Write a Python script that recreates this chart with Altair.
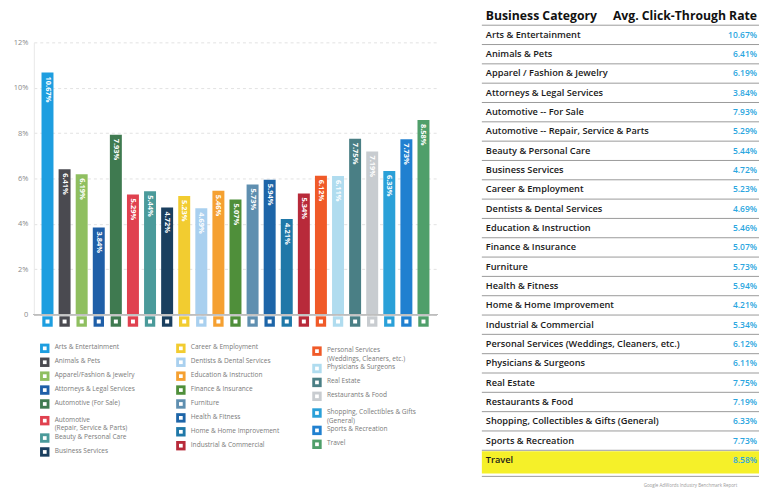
import altair as alt
import pandas as pd

categories = [
    "Arts & Entertainment", "Animals & Pets", "Apparel / Fashion & Jewelry",
    "Attorneys & Legal Services", "Automotive -- For Sale",
    "Automotive -- Repair, Service & Parts", "Beauty & Personal Care",
    "Business Services", "Career & Employment", "Dentists & Dental Services",
    "Education & Instruction", "Finance & Insurance", "Furniture",
    "Health & Fitness", "Home & Home Improvement", "Industrial & Commercial",
    "Personal Services (Weddings, Cleaners, etc.)", "Physicians & Surgeons",
    "Real Estate", "Restaurants & Food",
    "Shopping, Collectibles & Gifts (General)", "Sports & Recreation", "Travel",
]
ctr = [10.67, 6.41, 6.19, 3.84, 7.93, 5.29, 5.44, 4.72, 5.23, 4.69, 5.46, 5.07,
       5.73, 5.94, 4.21, 5.34, 6.12, 6.11, 7.75, 7.19, 6.33, 7.73, 8.58]
legend_labels = [
    "Arts & Entertainment", "Animals & Pets", "Apparel/Fashion & Jewelry",
    "Attorneys & Legal Services", "Automotive (For Sale)",
    "Automotive\n(Repair, Service & Parts)", "Beauty & Personal Care",
    "Business Services", "Career & Employment", "Dentists & Dental Services",
    "Education & Instruction", "Finance & Insurance", "Furniture",
    "Health & Fitness", "Home & Home Improvement", "Industrial & Commercial",
    "Personal Services\n(Weddings, Cleaners, etc.)", "Physicians & Surgeons",
    "Real Estate", "Restaurants & Food", "Shopping, Collectibles & Gifts\n(General)",
    "Sports & Recreation", "Travel",
]
colors = ["#1d9ee0", "#4a4a50", "#8fbf60", "#1f5fa8", "#3f7a50", "#e0414f",
          "#4a9a9a", "#1a3f5f", "#f2cc30", "#a9d0ef", "#f5a031", "#4f8f3a",
          "#5f8fb0", "#1d65a8", "#1f78a8", "#b82a3a", "#f05a28", "#b0dcef",
          "#4a7f85", "#c8ccd0", "#2aa0d8", "#2080d0", "#4f9f6a"]
y_ticks = [0, 2, 4, 6, 8, 10, 12]
header_left = "Business Category"
header_right = "Avg. Click-Through Rate"
highlight = "Travel"
footer = "Google AdWords Industry Benchmark Report"

df = pd.DataFrame({"cat": categories, "ctr": ctr, "color": colors,
                   "label": [f"{v:.2f}%" for v in ctr]})

xenc = alt.X("cat:N", sort=categories, axis=None,
             scale=alt.Scale(paddingInner=0.3, paddingOuter=0.45))
yenc = alt.Y("ctr:Q", scale=alt.Scale(domain=[0, 12], nice=False),
             axis=alt.Axis(values=y_ticks, title=None, grid=True, gridDash=[3, 3],
                           gridColor="#e2e2e2", domainColor="#e8e8e8", ticks=False,
                           labelColor="#8a8a8a", labelFontSize=7.5, labelPadding=6,
                           minExtent=26, labelFont="Open Sans",
                           labelExpr="datum.value == 0 ? '0' : datum.value + '%'"))
base = alt.Chart(df)
bars = base.mark_bar().encode(x=xenc, y=yenc, color=alt.Color("color:N", scale=None))
zero = base.mark_rule(color="#bdbdbd").encode(y=alt.datum(0))
labels = base.mark_text(angle=90, align="left", baseline="middle", dx=4, color="white",
                        fontSize=7.5, fontWeight="bold", font="Open Sans").encode(
    x=xenc, y="ctr:Q", text="label:N")
icons = base.mark_square(size=110, opacity=1, yOffset=7).encode(
    x=xenc, y=alt.datum(0), color=alt.Color("color:N", scale=None))
glyphs = base.mark_square(size=16, opacity=1, yOffset=7, color="white").encode(
    x=xenc, y=alt.datum(0))
bar_chart = alt.layer(bars, zero, labels, icons, glyphs).properties(width=406, height=274)

# custom legend, column-major, 8 per column
cols, poss = [], []
for c in range(3):
    idx = list(range(c * 8, min(c * 8 + 8, len(legend_labels))))
    extra = 0.0
    for k, i in enumerate(idx):
        two = "\n" in legend_labels[i]
        cols.append(c)
        poss.append(k + extra + (0.2 if two else 0.0))
        if two:
            extra += 0.45
leg_df = pd.DataFrame({"col": cols, "pos": poss, "label": legend_labels, "color": colors})
lx = alt.X("col:Q", scale=alt.Scale(domain=[-0.0803, 2.883], nice=False, zero=False), axis=None)
ly = alt.Y("pos:Q", scale=alt.Scale(domain=[-0.5, 8.0], nice=False, zero=False, reverse=True),
           axis=None)
leg_base = alt.Chart(leg_df)
leg_sq = leg_base.mark_square(size=90, opacity=1).encode(
    x=lx, y=ly, color=alt.Color("color:N", scale=None))
leg_gl = leg_base.mark_square(size=14, opacity=1, color="white").encode(x=lx, y=ly)
leg_tx = leg_base.mark_text(align="left", baseline="top", dx=10, dy=-4, fontSize=6.6,
                            color="#7a7a7a", lineBreak="\n", font="Open Sans").encode(
    x=lx, y=ly, text="label:N")
legend = alt.layer(leg_sq, leg_gl, leg_tx).properties(width=406, height=119)

left = alt.vconcat(bar_chart, legend, spacing=14)

# table: its plot top is aligned with the bar plot top; header rows sit above it
TW = 279
rows = pd.DataFrame({"row": list(range(1, len(categories) + 1)), "cat": categories,
                     "val": [f"{v:.2f}%" for v in ctr]})
head = pd.DataFrame({"row": [0], "l": [header_left], "r": [header_right]})
STEP = 19.45
a0 = 27 / STEP
tscale = alt.Scale(domain=[a0, a0 + 274 / STEP], nice=False, zero=False, reverse=True)
ty = alt.Y("row:Q", scale=tscale, axis=None)
hl_df = pd.DataFrame({"y0": [22.55], "y1": [23.7], "cat": [highlight]})
hl = alt.Chart(hl_df).mark_rect(color="#f4ef1e", opacity=0.95).encode(
    y=alt.Y("y0:Q", scale=tscale, axis=None), y2="y1:Q",
    x=alt.value(0), x2=alt.value(TW))
sep_df = pd.DataFrame({"row": [i + 0.5 for i in range(23)] + [23.85]})
seps = alt.Chart(sep_df).mark_rule(color="#9a9a9a", strokeWidth=1).encode(y=ty)
cat_tx = alt.Chart(rows).mark_text(align="left", baseline="middle", fontSize=9.3,
                                   fontWeight=600, color="#1a1a1a", font="Open Sans").encode(
    y=ty, x=alt.value(4), text="cat:N")
val_tx = alt.Chart(rows).mark_text(align="right", baseline="middle", fontSize=8.5,
                                   fontWeight=600, color="#2aa6e0", font="Open Sans").encode(
    y=ty, x=alt.value(TW - 2), text="val:N")
hd_l = alt.Chart(head).mark_text(align="left", baseline="middle", fontSize=12.3,
                                 fontWeight="bold", color="#111", font="Open Sans").encode(
    y=ty, x=alt.value(4), text="l:N")
hd_r = alt.Chart(head).mark_text(align="right", baseline="middle", fontSize=12.3,
                                 fontWeight="bold", color="#111", font="Open Sans").encode(
    y=ty, x=alt.value(TW - 2), text="r:N")
foot = alt.Chart(pd.DataFrame({"row": [24.35], "t": [footer]})).mark_text(
    align="center", baseline="middle", fontSize=4.5, color="#9a9a9a", font="Open Sans").encode(
    y=ty, x=alt.value(210), text="t:N")
table = alt.layer(hl, seps, cat_tx, val_tx, hd_l, hd_r, foot).properties(width=TW, height=274)

chart = alt.hconcat(left, table, spacing=43).properties(padding=0, background="white").configure_view(
    strokeWidth=0)

chart.save("out.html", embed_options={"renderer": "svg", "actions": False})
